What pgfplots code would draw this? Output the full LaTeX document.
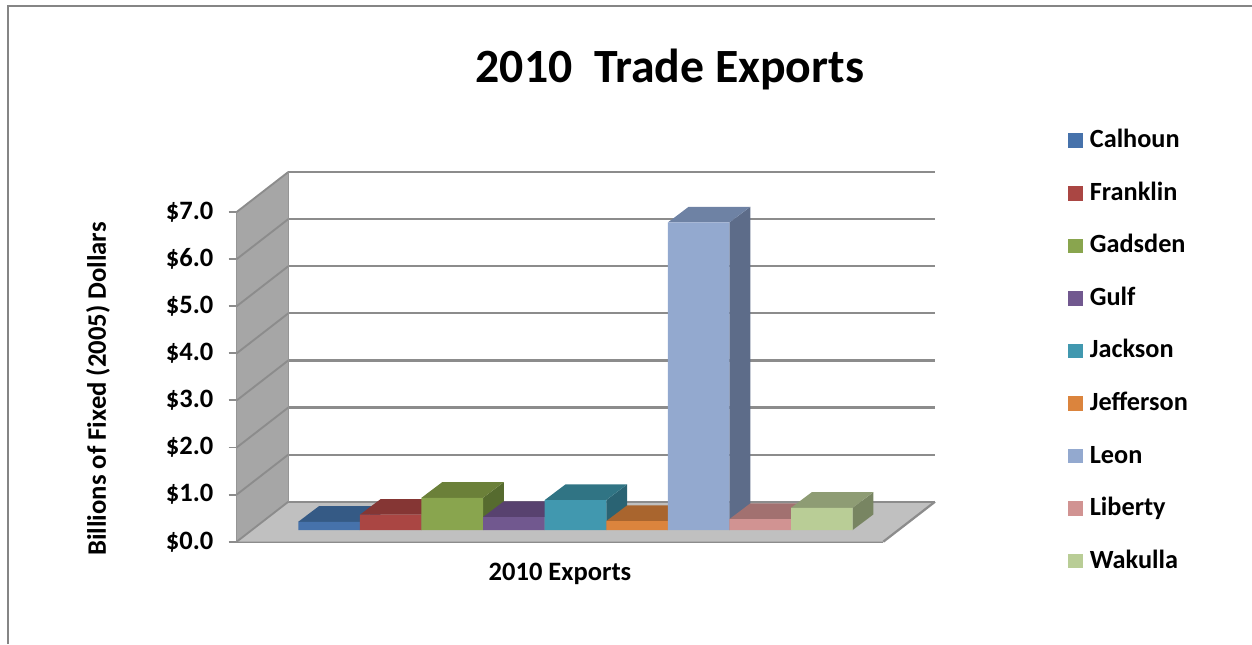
\documentclass[border=0pt]{standalone}
\usepackage{fontspec}
\setmainfont{Carlito}
\usepackage{pgfplots}
\pgfplotsset{compat=1.18}
\definecolor{axisgray}{HTML}{8C8C8C}
\definecolor{wallgray}{HTML}{A6A6A6}
\definecolor{floorgray}{HTML}{C0C0C0}
% county colours: front, top and side faces
\definecolor{calF}{HTML}{4672AB}\definecolor{calT}{HTML}{355A85}\definecolor{calS}{HTML}{2E4E75}
\definecolor{fraF}{HTML}{AA4643}\definecolor{fraT}{HTML}{853634}\definecolor{fraS}{HTML}{702D2B}
\definecolor{gadF}{HTML}{89A54E}\definecolor{gadT}{HTML}{6B8039}\definecolor{gadS}{HTML}{566B2F}
\definecolor{gulF}{HTML}{71588F}\definecolor{gulT}{HTML}{58426F}\definecolor{gulS}{HTML}{4A385E}
\definecolor{jacF}{HTML}{4198AF}\definecolor{jacT}{HTML}{307484}\definecolor{jacS}{HTML}{2A6373}
\definecolor{jefF}{HTML}{DB843D}\definecolor{jefT}{HTML}{A9652E}\definecolor{jefS}{HTML}{8F5525}
\definecolor{leoF}{HTML}{93A9CF}\definecolor{leoT}{HTML}{6E82A4}\definecolor{leoS}{HTML}{5D6C89}
\definecolor{libF}{HTML}{D19392}\definecolor{libT}{HTML}{A27170}\definecolor{libS}{HTML}{8A6060}
\definecolor{wakF}{HTML}{B9CD96}\definecolor{wakT}{HTML}{8E9C74}\definecolor{wakS}{HTML}{788562}

% A bar standing on the floor: left edge (x), value in dollars, colour prefix.
% Floor level of the bars sits 0.248 above the front edge; depth is 20.8 across, 0.333 up.
\newcommand{\exportbar}[3]{%
  \pgfmathsetmacro\xa{#1}\pgfmathsetmacro\xb{#1+61.6}%
  \pgfmathsetmacro\xc{#1+20.8}\pgfmathsetmacro\xd{#1+61.6+20.8}%
  \pgfmathsetmacro\yb{0.248}\pgfmathsetmacro\yt{0.248+#2}%
  \pgfmathsetmacro\ybb{0.248+0.333}\pgfmathsetmacro\ytb{0.248+#2+0.333}%
  \edef\drawbar{%
    \noexpand\addplot[fill=#3S,draw=none,forget plot] coordinates
      {(\xb,\yb)(\xd,\ybb)(\xd,\ytb)(\xb,\yt)(\xb,\yb)};
    \noexpand\addplot[fill=#3T,draw=none,forget plot] coordinates
      {(\xa,\yt)(\xb,\yt)(\xd,\ytb)(\xc,\ytb)(\xa,\yt)};
    \noexpand\addplot[fill=#3F,draw=none] coordinates
      {(\xa,\yb)(\xb,\yb)(\xb,\yt)(\xa,\yt)(\xa,\yb)};
  }\drawbar
}

\begin{document}
\begin{tikzpicture}
\path[use as bounding box] (0,0) rectangle (939pt,483pt);
\draw[color=axisgray!95!black,line width=1.1pt] (6pt,0pt) -- (6pt,478.5pt) -- (939pt,478.5pt);
\begin{axis}[
  at={(177.5pt,76.7pt)},anchor=south west,
  scale only axis,width=484.95pt,height=247.3pt,
  xmin=236.7,xmax=883.3,ymin=0,ymax=7,
  clip=false,
  axis x line*=bottom,axis y line*=left,
  axis line style={axisgray,line width=1.7pt},
  xtick=\empty,
  ytick={0,1,2,3,4,5,6,7},
  yticklabels={\$0.0,\$1.0,\$2.0,\$3.0,\$4.0,\$5.0,\$6.0,\$7.0},
  tick style={axisgray,line width=1.4pt},
  tick align=outside,
  major tick length=6pt,
  yticklabel style={font=\fontsize{19.9}{22}\selectfont\bfseries,xshift=-8pt},
  title={2010\ \ Trade Exports},
  title style={at={(axis description cs:0.670,1.407)},anchor=center,font=\fontsize{35.8}{40}\selectfont\bfseries},
  xlabel={2010 Exports},
  xlabel style={at={(axis description cs:0.5,-0.097)},anchor=center,font=\fontsize{19.9}{22}\selectfont\bfseries},
  ylabel={Billions of Fixed (2005) Dollars},
  ylabel style={at={(axis description cs:-0.2145,0.463)},anchor=center,font=\fontsize{20}{22}\selectfont\bfseries},
  legend cell align=left,
  legend image code/.code={\fill[#1] (0pt,-4pt) rectangle (11pt,7pt);\path (16.2pt,0pt);},
  legend style={at={(axis description cs:1.2857,1.248)},anchor=north west,draw=none,fill=none,
    inner sep=0pt,row sep=21pt,
    nodes={inner sep=0pt,text height=13pt,text depth=5.4pt,anchor=west},
    font=\fontsize{19.7}{22}\selectfont\bfseries},
]
% floor and left wall
\addplot[fill=floorgray,draw=none,forget plot] coordinates
  {(236.7,0)(883.3,0)(935,0.849)(288.3,0.849)(236.7,0)};
\addplot[fill=wallgray,draw=none,forget plot] coordinates
  {(236.7,0)(288.3,0.849)(288.3,7.849)(236.7,7)(236.7,0)};
% gridlines on the back and left walls
\pgfplotsinvokeforeach{0,...,7}{%
  \pgfmathsetmacro\gy{#1+0.849}
  \edef\drawgrid{%
    \noexpand\addplot[axisgray,line width=1.7pt,forget plot] coordinates {(288.3,\gy)(935,\gy)};
    \noexpand\addplot[axisgray,line width=1.4pt,forget plot] coordinates {(236.7,#1)(288.3,\gy)};
  }\drawgrid
}
\addplot[wallgray!90!black,line width=1pt,forget plot] coordinates {(288.3,0.849)(288.3,7.849)};
\addplot[axisgray,line width=1.7pt,forget plot] coordinates {(883.3,0)(935,0.849)};
% one bar per county
\exportbar{298.3}{0.176}{cal}
\exportbar{359.9}{0.325}{fra}
\exportbar{421.5}{0.685}{gad}
\exportbar{483.1}{0.276}{gul}
\exportbar{544.7}{0.636}{jac}
\exportbar{606.3}{0.190}{jef}
\exportbar{667.9}{6.530}{leo}
\exportbar{729.5}{0.233}{lib}
\exportbar{791.1}{0.473}{wak}
\legend{Calhoun,Franklin,Gadsden,Gulf,Jackson,Jefferson,Leon,Liberty,Wakulla}
\end{axis}
\end{tikzpicture}
\end{document}
